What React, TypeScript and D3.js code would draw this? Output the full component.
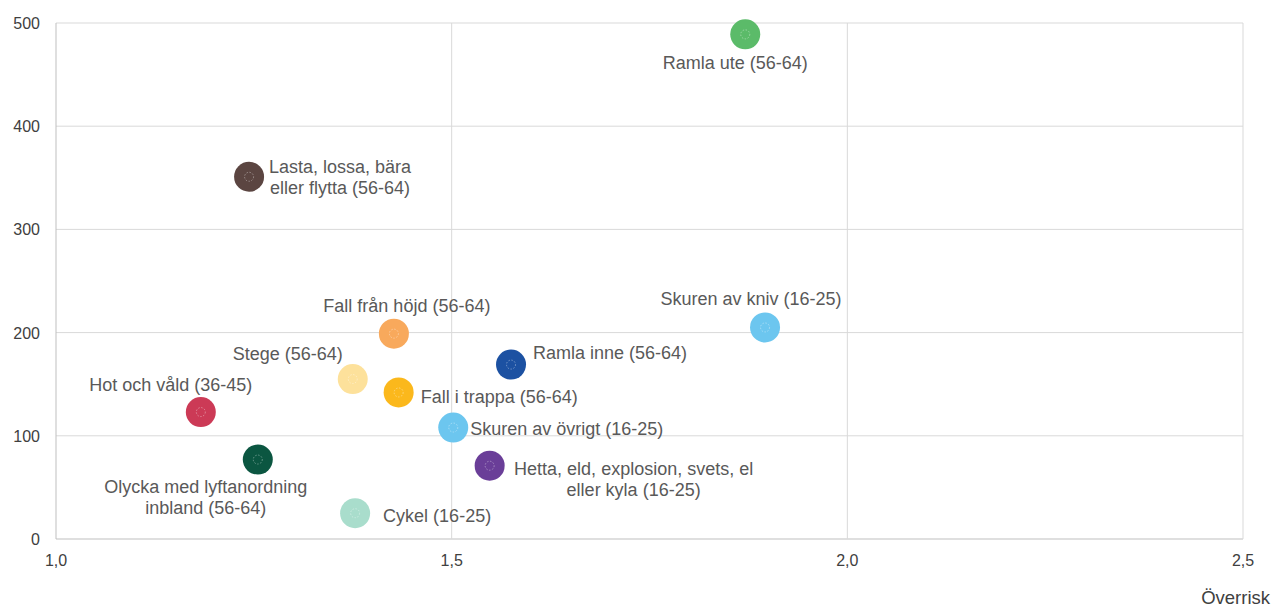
import * as d3 from "d3";

const labels = [
  "Ramla ute (56-64)",
  "Lasta, lossa, bära\neller flytta (56-64)",
  "Skuren av kniv (16-25)",
  "Fall från höjd (56-64)",
  "Ramla inne (56-64)",
  "Stege (56-64)",
  "Fall i trappa (56-64)",
  "Hot och våld (36-45)",
  "Skuren av övrigt (16-25)",
  "Olycka med lyftanordning\ninbland (56-64)",
  "Hetta, eld, explosion, svets, el\neller kyla (16-25)",
  "Cykel (16-25)",
];
const overrisk = [1.871, 1.244, 1.896, 1.427, 1.575, 1.375, 1.433, 1.183, 1.502, 1.255, 1.548, 1.378];
const antal = [489, 351, 205, 199, 169, 155, 142, 123, 108, 77, 71, 25];
const colors = [
  "#5bbb69", "#5b4541", "#6cc6ef", "#f8a95c", "#1c51a2", "#fde19b",
  "#fbb81c", "#cc3a56", "#6cc6ef", "#0b5641", "#6a3e98", "#a9ddcc",
];
// label placement relative to the point: [dx, dy, anchor]
const placement: [number, number, string][] = [
  [-10, 28, "middle"],
  [91, 0, "middle"],
  [-14, -29, "middle"],
  [13, -28, "middle"],
  [22, -12, "start"],
  [-10, -26, "end"],
  [22, 4, "start"],
  [-30, -28, "middle"],
  [17, 1, "start"],
  [-52, 37, "middle"],
  [144, 13, "middle"],
  [28, 2, "start"],
];
const xTicks = [1.0, 1.5, 2.0, 2.5];
const yTicks = [0, 100, 200, 300, 400, 500];

export default function App() {
  const width = 1273;
  const height = 608;
  const x = d3.scaleLinear().domain([1, 2.5]).range([56, 1243]);
  const y = d3.scaleLinear().domain([0, 500]).range([539, 23]);
  const fmt = (v: number) => d3.format(".1f")(v).replace(".", ",");
  const font = "'Liberation Sans', Arial, sans-serif";
  const lineH = 21;

  return (
    <svg width={width} height={height} style={{ position: "absolute", left: 0, top: 0 }} fontFamily={font}>
      <rect width={width} height={height} fill="#fff" />
      {yTicks.map((t) => (
        <line key={"gy" + t} x1={x(1)} x2={x(2.5)} y1={y(t)} y2={y(t)} stroke={t === 0 ? "#bfbfbf" : "#d9d9d9"} strokeWidth={1} />
      ))}
      {xTicks.map((t) => (
        <line key={"gx" + t} x1={x(t)} x2={x(t)} y1={y(0)} y2={y(500)} stroke={t === 1 ? "#bfbfbf" : "#d9d9d9"} strokeWidth={1} />
      ))}
      {yTicks.map((t) => (
        <text key={"ty" + t} x={40} y={y(t) + 6} textAnchor="end" fontSize={16} fill="#404040">{t}</text>
      ))}
      {xTicks.map((t) => (
        <text key={"tx" + t} x={x(t)} y={566} textAnchor="middle" fontSize={16} fill="#404040">{fmt(t)}</text>
      ))}
      <text x={1270} y={604} textAnchor="end" fontSize={18.5} fill="#404040">Överrisk</text>
      {labels.map((lab, i) => {
        const cx = x(overrisk[i]);
        const cy = y(antal[i]);
        return (
          <g key={lab}>
            <circle cx={cx} cy={cy} r={15} fill={colors[i]} />
            <circle cx={cx} cy={cy} r={4.5} fill="none" stroke="#fff" strokeOpacity={0.45} strokeWidth={0.8} strokeDasharray="1.5 1.5" />
          </g>
        );
      })}
      {labels.map((lab, i) => {
        const cx = x(overrisk[i]);
        const cy = y(antal[i]);
        const [dx, dy, anchor] = placement[i];
        const lines = lab.split("\n");
        const y0 = cy + dy + 6.5 - ((lines.length - 1) * lineH) / 2;
        return (
          <text key={"l" + i} x={cx + dx} y={y0} textAnchor={anchor as any} fontSize={18} fill="#595959">
            {lines.map((ln, j) => (
              <tspan key={j} x={cx + dx} y={y0 + j * lineH}>{ln}</tspan>
            ))}
          </text>
        );
      })}
    </svg>
  );
}
